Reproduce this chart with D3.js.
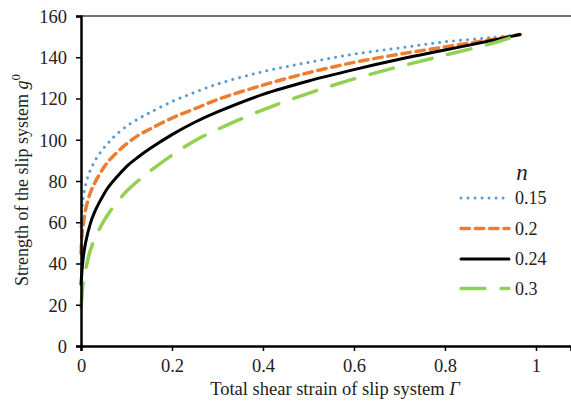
<!DOCTYPE html>
<html>
<head>
<meta charset="utf-8">
<script src="https://cdn.jsdelivr.net/npm/d3@7"></script>
</head>
<body style="margin:0">
<script>
// strain values (x) shared by all series
const strain = [0, 0.002, 0.005, 0.01, 0.02, 0.03, 0.04, 0.05, 0.06, 0.075, 0.1, 0.125, 0.15, 0.2, 0.25, 0.3, 0.4, 0.5, 0.6, 0.7, 0.8, 0.9, 0.965];

// strength, one list per exponent n
const n015 = [58, 66, 72, 78, 85, 89.5, 93, 96, 98.5, 102, 106.5, 110, 113, 118.5, 123, 127, 133, 137.5, 141.5, 144.5, 147.5, 149.5, 151];
const n020 = [45, 53, 59, 66, 74, 79, 83, 86.5, 89.5, 93, 98, 102, 105, 110.5, 115, 119.5, 126.5, 132.5, 137.5, 141.5, 145, 148.5, 151];
const n024 = [30, 36, 43, 50, 59, 65, 69.5, 73.5, 77, 81, 87, 91.5, 95.5, 102.5, 108.5, 113.5, 122, 128.5, 134, 139, 143.5, 148, 151];
const n030 = [19, 24, 31, 37, 46, 52, 56.5, 60.5, 64, 68.5, 75, 80, 84.5, 92.5, 99.5, 105, 114.5, 122.5, 129.5, 135.5, 141, 146.5, 151];

const seriesNames = ["0.15", "0.2", "0.24", "0.3"];
const seriesValues = [n015, n020, n024, n030];

const xTicks = [0, 0.2, 0.4, 0.6, 0.8, 1];
const yTicks = [0, 20, 40, 60, 80, 100, 120, 140, 160];

const FONT = "'Liberation Serif'";

const W = 571, H = 405;
const margin = {top: 16, left: 81, right: 0, bottom: 59};
const width = W - margin.left - margin.right;
const height = H - margin.top - margin.bottom;

const styles = {
  "0.15": {color: "#5b9bd5", dash: "0.01 7", w: 3},
  "0.2":  {color: "#ed7d31", dash: "8.5 5.8", w: 3.5},
  "0.24": {color: "#000000", dash: null, w: 3},
  "0.3":  {color: "#92d050", dash: "24 16", w: 3.5}
};

const svg = d3.select("body").append("svg")
  .attr("width", W)
  .attr("height", H);

const g = svg.append("g")
  .attr("transform", `translate(${margin.left},${margin.top})`);

const xScale = d3.scaleLinear().domain([0, 1.077]).range([0, width]);
const yScale = d3.scaleLinear().domain([0, 160]).range([height, 0]);

// top border of the plot area
g.append("line")
  .attr("x1", 0).attr("x2", width)
  .attr("y1", 0).attr("y2", 0)
  .attr("stroke", "#444").attr("stroke-width", 1.3);

// series
const line = d3.line()
  .x((d, i) => xScale(strain[i]))
  .y(d => yScale(d))
  .curve(d3.curveCatmullRom.alpha(0.5));

seriesNames.forEach((name, k) => {
  const s = styles[name];
  g.append("path")
    .datum(seriesValues[k])
    .attr("fill", "none")
    .attr("stroke", s.color)
    .attr("stroke-width", s.w)
    .attr("stroke-linecap", "round")
    .attr("stroke-dasharray", s.dash)
    .attr("d", line);
});

// axes
const xAxis = d3.axisBottom(xScale).tickValues(xTicks).tickSize(5).tickPadding(8)
  .tickFormat(d => d3.format("")(d));
const yAxis = d3.axisLeft(yScale).tickValues(yTicks).tickSize(5).tickPadding(9);

const xg = g.append("g").attr("transform", `translate(0,${height})`).call(xAxis);
const yg = g.append("g").call(yAxis);

[xg, yg].forEach(a => {
  a.attr("font-family", null).attr("font-size", null);
  a.select(".domain").attr("stroke", "#000").attr("stroke-width", 2.5);
  a.selectAll(".tick line").attr("stroke", "#000").attr("stroke-width", 1.5);
  a.selectAll(".tick text")
    .style("font-family", FONT)
    .attr("font-size", 18.5)
    .attr("fill", "#222");
});
yg.selectAll(".tick text").attr("dy", "0.35em");

// axis titles
const xt = svg.append("text")
  .attr("x", 335).attr("y", 395)
  .attr("text-anchor", "middle")
  .style("font-family", FONT)
  .attr("font-size", 18.5)
  .attr("fill", "#222")
  .text("Total shear strain of slip system ");
xt.append("tspan").attr("font-style", "italic").text("Γ");

const yt = svg.append("text")
  .attr("transform", "translate(28,180) rotate(-90)")
  .attr("text-anchor", "middle")
  .style("font-family", FONT)
  .attr("font-size", 18)
  .attr("fill", "#222")
  .text("Strength of the slip system ");
yt.append("tspan").attr("font-style", "italic").text("g");
yt.append("tspan").attr("dy", -8).attr("font-size", 13).text("0");

// legend
const legend = svg.append("g");
legend.append("text")
  .attr("x", 522).attr("y", 180)
  .attr("text-anchor", "middle")
  .style("font-family", FONT)
  .attr("font-size", 23)
  .attr("font-style", "italic")
  .attr("fill", "#222")
  .text("n");

const rowY = [198, 228.5, 259, 288.5];
seriesNames.forEach((name, k) => {
  const s = styles[name];
  legend.append("line")
    .attr("x1", 461).attr("x2", 509)
    .attr("y1", rowY[k]).attr("y2", rowY[k])
    .attr("stroke", s.color)
    .attr("stroke-width", s.w)
    .attr("stroke-linecap", "round")
    .attr("stroke-dasharray", s.dash);
  legend.append("text")
    .attr("x", 515).attr("y", rowY[k])
    .attr("dy", "0.35em")
    .style("font-family", FONT)
    .attr("font-size", 18)
    .attr("fill", "#222")
    .text(name);
});
</script>
</body>
</html>
